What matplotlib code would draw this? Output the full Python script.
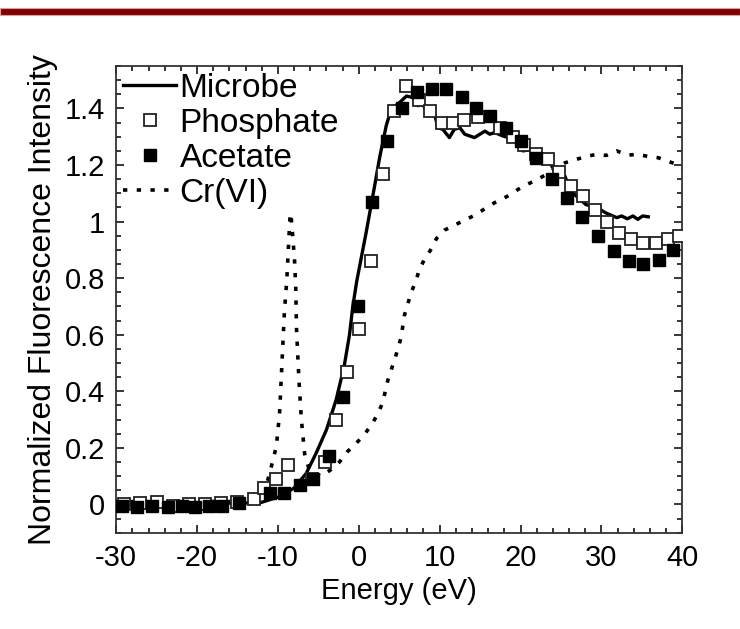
import matplotlib
matplotlib.use("Agg")
import matplotlib.pyplot as plt
from matplotlib.patches import Rectangle
from matplotlib.ticker import MultipleLocator

plt.rcParams['font.family'] = ['Liberation Sans', 'DejaVu Sans']
plt.rcParams['axes.unicode_minus'] = False

# Microbe spectrum (solid line)
microbe_e = [-30, -25, -20, -15.6, -12.3, -9.8, -8.0, -6.5, -5.3, -4.0, -2.8, -1.8,
             -1.15, -0.74, -0.25, 0.9, 1.95, 2.6, 3.4, 4.0, 5.0, 5.9, 6.8, 7.3, 7.9,
             8.5, 9.2, 9.8, 10.4, 11.2, 11.8, 12.5, 13.1, 14.3, 15.6, 16.2, 16.8, 17.8,
             19.3, 20.3, 21.3, 22.4, 23.4, 24.0, 24.8, 25.5, 26.1, 26.9, 28.1, 29.4,
             30.6, 31.9, 32.5, 33.2, 33.9, 34.5, 35.1, 35.8]
microbe_i = [0.0, 0.0, 0.003, 0.005, 0.005, 0.028, 0.058, 0.11, 0.18, 0.264, 0.37, 0.49,
             0.60, 0.70, 0.79, 0.96, 1.125, 1.23, 1.34, 1.397, 1.42, 1.444, 1.438, 1.41,
             1.415, 1.385, 1.397, 1.332, 1.326, 1.297, 1.326, 1.332, 1.309, 1.297, 1.32,
             1.309, 1.315, 1.303, 1.29, 1.25, 1.255, 1.23, 1.22, 1.19, 1.185, 1.16, 1.114,
             1.09, 1.06, 1.05, 1.03, 1.014, 1.02, 1.01, 1.02, 1.008, 1.02, 1.017]

# Phosphate standard (open squares)
phos_e = [-29.0, -27.0, -25.0, -23.0, -21.0, -19.0, -17.0, -15.0, -13.0, -11.7, -10.2,
          -8.7, -5.8, -4.2, -2.8, -1.4, 0.0, 1.45, 3.0, 4.4, 5.8, 7.4, 8.75, 10.3, 11.6,
          13.0, 14.7, 17.4, 19.1, 20.4, 21.95, 23.4, 24.8, 26.3, 27.7, 29.2, 30.7, 32.2,
          33.6, 35.1, 36.7, 38.2, 39.6]
phos_i = [0.0, 0.005, 0.01, -0.005, 0.0, 0.0, 0.005, 0.01, 0.02, 0.06, 0.09,
          0.14, 0.09, 0.15, 0.30, 0.47, 0.62, 0.86, 1.17, 1.39, 1.48, 1.43, 1.39, 1.35, 1.35,
          1.36, 1.37, 1.33, 1.30, 1.27, 1.24, 1.22, 1.175, 1.125, 1.09, 1.04, 1.0, 0.96,
          0.94, 0.925, 0.925, 0.94, 0.95]

# Acetate standard (filled squares)
acet_e = [-29.3, -27.4, -25.6, -23.6, -21.9, -20.3, -18.5, -16.9, -14.8, -11.0, -9.3,
          -7.3, -5.7, -3.7, -1.9, -0.1, 1.65, 3.5, 5.4, 7.2, 9.0, 10.8, 12.7, 14.5, 16.2,
          18.2, 20.1, 21.95, 23.9, 25.7, 27.6, 29.6, 31.6, 33.4, 35.2, 37.1, 38.9]
acet_i = [-0.005, -0.008, -0.005, -0.01, -0.005, -0.008, -0.005, -0.005, 0.005, 0.04, 0.04,
          0.07, 0.09, 0.17, 0.38, 0.70, 1.07, 1.285, 1.40, 1.46, 1.47, 1.47, 1.44, 1.40, 1.375,
          1.33, 1.285, 1.225, 1.15, 1.085, 1.015, 0.95, 0.895, 0.86, 0.85, 0.865, 0.90]

# Cr(VI) reference (dotted line)
cr_e = [-30, -25, -20, -15, -12, -11.25, -10.85, -10.2, -9.8, -9.5, -9.2, -8.9, -8.7,
        -8.5, -8.4, -8.2, -7.95, -7.8, -7.7, -7.4, -7.1, -6.7, -6.1, -4.65, -3.6, -2.4,
        -1.4, -0.3, 0.7, 1.7, 2.35, 2.95, 3.6, 4.4, 4.95, 5.25, 5.65, 6.06, 6.5, 7.1,
        7.5, 8.1, 9.0, 9.6, 10.6, 11.8, 13.3, 14.5, 15.8, 16.8, 18.4, 19.7, 20.7, 21.95,
        23.2, 24.4, 25.5, 26.9, 28.1, 29.4, 30.6, 31.9, 33.3, 34.5, 35.8, 37.0, 38.2,
        39.5, 40]
cr_i = [0.01, 0.01, 0.01, 0.01, 0.02, 0.087, 0.13, 0.205, 0.32, 0.50, 0.68, 0.795, 0.91,
        1.02, 1.03, 0.96, 0.866, 0.77, 0.62, 0.44, 0.30, 0.18, 0.12, 0.10, 0.12, 0.15,
        0.187, 0.217, 0.247, 0.288, 0.32, 0.36, 0.44, 0.51, 0.56, 0.595, 0.67, 0.71, 0.75,
        0.795, 0.83, 0.866, 0.905, 0.94, 0.97, 0.987, 1.008, 1.025, 1.05, 1.067, 1.09,
        1.114, 1.13, 1.147, 1.167, 1.19, 1.208, 1.22, 1.23, 1.238, 1.234, 1.25, 1.235,
        1.238, 1.23, 1.226, 1.214, 1.20, 1.19]

fig = plt.figure(figsize=(7.4, 6.29), dpi=100)
ax = fig.add_axes([0.157, 0.153, 0.765, 0.742])

# dark red rule along the top of the slide
fig.patches.append(Rectangle((0, 1 - 15 / 629), 1, 7 / 629, transform=fig.transFigure,
                             facecolor='#7f0000', edgecolor='#d9a0a0', linewidth=0.8))

ax.plot(microbe_e, microbe_i, '-', color='black', lw=2.4, label='Microbe', zorder=3)
ax.plot(phos_e, phos_i, 's', mfc='white', mec='#222222', mew=1.3, ms=8,
        linestyle='none', label='Phosphate', zorder=4)
ax.plot(acet_e, acet_i, 's', color='black', ms=8, linestyle='none',
        label='Acetate', zorder=4)
ax.plot(cr_e, cr_i, color='black', lw=2.6, linestyle=(0, (1.2, 2.6)),
        label='Cr(VI)', zorder=2)

ax.set_xlim(-30, 40)
ax.set_ylim(-0.1, 1.55)
ax.set_xticks(range(-30, 41, 10))
ax.set_yticks([0, 0.2, 0.4, 0.6, 0.8, 1.0, 1.2, 1.4])
ax.set_yticklabels(['0', '0.2', '0.4', '0.6', '0.8', '1', '1.2', '1.4'])
ax.xaxis.set_minor_locator(MultipleLocator(2))
ax.yaxis.set_minor_locator(MultipleLocator(0.05))
ax.tick_params(which='both', direction='in', top=True, right=True,
               width=1.1, labelsize=21, pad=8)
ax.tick_params(which='major', length=6)
ax.tick_params(which='minor', length=3.5)
for s in ax.spines.values():
    s.set_linewidth(1.3)
    s.set_color('#333333')

ax.set_xlabel('Energy (eV)', fontsize=21, labelpad=4)
ax.set_ylabel('Normalized Fluorescence Intensity', fontsize=23, labelpad=5)

ax.legend(loc='upper left', frameon=False, fontsize=24, handlelength=1.6,
          handletextpad=0.1, labelspacing=0.12, borderaxespad=0.05,
          borderpad=0.15, numpoints=1)

fig.savefig('out.png', dpi=100)
